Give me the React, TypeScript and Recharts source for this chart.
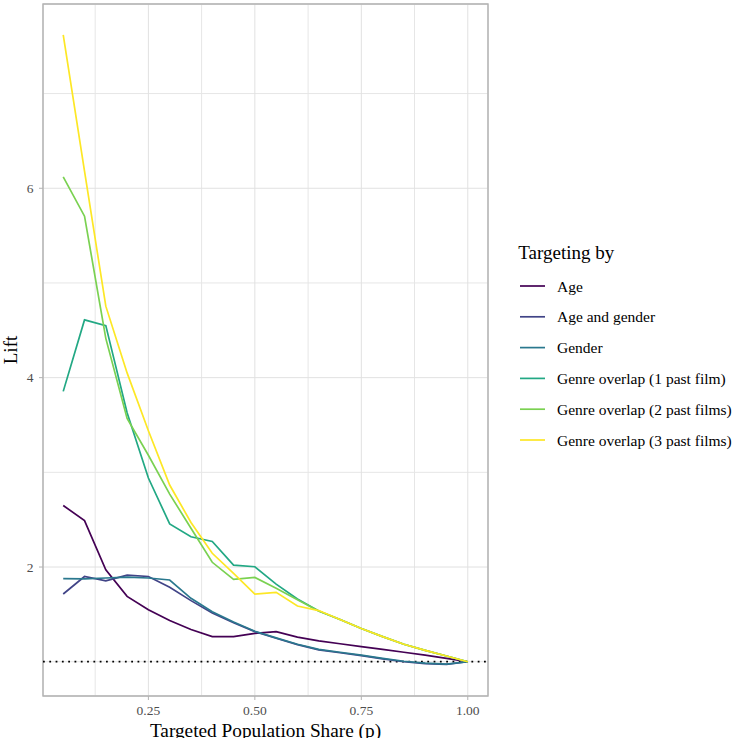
import { LineChart, Line, XAxis, YAxis, CartesianGrid, ReferenceLine, ReferenceArea } from "recharts"

const FONT = "'Liberation Serif', 'Times New Roman', serif"

// targeted population share (p)
const shares = [0.05, 0.1, 0.15, 0.2, 0.25, 0.3, 0.35, 0.4, 0.45, 0.5, 0.55, 0.6, 0.65, 0.7, 0.75, 0.8, 0.85, 0.9, 0.95, 1.0]

// lift per targeting rule
const age = [2.65, 2.49, 1.97, 1.69, 1.55, 1.435, 1.34, 1.265, 1.265, 1.3, 1.317, 1.26, 1.22, 1.19, 1.16, 1.13, 1.1, 1.07, 1.035, 1.0]
const ageGender = [1.715, 1.9, 1.855, 1.915, 1.9, 1.786, 1.645, 1.515, 1.412, 1.318, 1.248, 1.18, 1.125, 1.095, 1.065, 1.03, 1.0, 0.98, 0.972, 1.0]
const gender = [1.877, 1.874, 1.884, 1.894, 1.884, 1.863, 1.67, 1.528, 1.42, 1.322, 1.252, 1.184, 1.13, 1.1, 1.07, 1.035, 1.005, 0.985, 0.975, 1.0]
const genre1 = [3.855, 4.61, 4.55, 3.63, 2.94, 2.455, 2.32, 2.27, 2.02, 2.003, 1.82, 1.662, 1.535, 1.445, 1.35, 1.265, 1.185, 1.12, 1.06, 1.0]
const genre2 = [6.12, 5.705, 4.415, 3.57, 3.18, 2.77, 2.41, 2.05, 1.87, 1.89, 1.775, 1.655, 1.535, 1.445, 1.35, 1.265, 1.185, 1.12, 1.06, 1.0]
const genre3 = [7.62, 6.18, 4.755, 4.05, 3.44, 2.866, 2.47, 2.145, 1.933, 1.715, 1.733, 1.588, 1.54, 1.445, 1.35, 1.265, 1.185, 1.12, 1.06, 1.0]

const seriesNames = [
  "Age",
  "Age and gender",
  "Gender",
  "Genre overlap (1 past film)",
  "Genre overlap (2 past films)",
  "Genre overlap (3 past films)",
]
const seriesColors = ["#440154", "#414487", "#2A788E", "#22A884", "#7AD151", "#FDE725"]
const seriesValues = [age, ageGender, gender, genre1, genre2, genre3]

const xMajor = [0.25, 0.5, 0.75, 1.0]
const xMinor = [0.125, 0.375, 0.625, 0.875]
const yMajor = [2, 4, 6]
const yMinor = [1, 3, 5, 7]
const xDomain = [0.0025, 1.0475]
const yDomain = [0.638, 7.946]
const baseline = 1

const rows = shares.map((p, i) => {
  const row: Record<string, number> = { p }
  seriesValues.forEach((vals, s) => {
    row["s" + s] = vals[i]
  })
  return row
})

function XTitle({ viewBox }: any) {
  const vb = viewBox ?? { x: 43, y: 696, width: 445, height: 42 }
  return (
    <text x={vb.x + vb.width / 2} y={vb.y + vb.height - 1} textAnchor="middle" fontSize={19.3} fontFamily={FONT} fill="#000">
      Targeted Population Share (p)
    </text>
  )
}

function YTitle({ viewBox }: any) {
  const vb = viewBox ?? { x: 0, y: 4, width: 43, height: 692 }
  const cx = vb.x + 17.3
  const cy = vb.y + vb.height / 2
  return (
    <text x={cx} y={cy} transform={`rotate(-90 ${cx} ${cy})`} textAnchor="middle" fontSize={19} fontFamily={FONT} fill="#000">
      Lift
    </text>
  )
}

function LegendBox() {
  return (
    <svg width={242} height={230} style={{ position: "absolute", left: 490, top: 230 }}>
      <text x={28.3} y={29.3} fontSize={19} fontFamily={FONT} fill="#000">
        Targeting by
      </text>
      {seriesNames.map((name, i) => {
        const cy = 56 + i * 30.8
        return (
          <g key={name}>
            <line x1={30} x2={55} y1={cy} y2={cy} stroke={seriesColors[i]} strokeWidth={1.7} />
            <text x={67} y={cy + 5.5} fontSize={15.5} fontFamily={FONT} fill="#000">
              {name}
            </text>
          </g>
        )
      })}
    </svg>
  )
}

const tickStyle = { fontSize: 13.5, fill: "#4d4d4d", fontFamily: FONT }

export default function App() {
  return (
    <div style={{ position: "absolute", left: 0, top: 0, width: 732, height: 738, background: "#fff" }}>
      <LineChart width={732} height={738} data={rows} margin={{ top: 4, right: 244, bottom: 0, left: 0 }}>
        <XAxis xAxisId="minor" dataKey="p" type="number" domain={xDomain} ticks={xMinor} allowDataOverflow hide />
        <YAxis yAxisId="minor" type="number" domain={yDomain} ticks={yMinor} allowDataOverflow hide />
        <CartesianGrid xAxisId="minor" yAxisId="minor" stroke="#e6e6e6" strokeWidth={1} />
        <CartesianGrid stroke="#e1e1e1" strokeWidth={1} />
        <XAxis
          dataKey="p"
          type="number"
          domain={xDomain}
          ticks={xMajor}
          allowDataOverflow
          height={42}
          axisLine={false}
          tickLine={{ stroke: "#b3b3b3" }}
          tickSize={4}
          tickMargin={5.5}
          tick={tickStyle}
          tickFormatter={(v: number) => v.toFixed(2)}
          label={<XTitle />}
        />
        <YAxis
          type="number"
          domain={yDomain}
          ticks={yMajor}
          allowDataOverflow
          width={43}
          axisLine={false}
          tickLine={{ stroke: "#b3b3b3" }}
          tickSize={4}
          tickMargin={5.5}
          tick={tickStyle}
          label={<YTitle />}
        />
        <ReferenceLine y={baseline} stroke="#000" strokeWidth={1.8} strokeDasharray="1.8 4.5" />
        {seriesNames.map((name, i) => (
          <Line
            key={name}
            name={name}
            dataKey={"s" + i}
            type="linear"
            stroke={seriesColors[i]}
            strokeWidth={1.7}
            dot={false}
            isAnimationActive={false}
          />
        ))}
        <ReferenceArea x1={xDomain[0]} x2={xDomain[1]} y1={yDomain[0]} y2={yDomain[1]} fill="none" stroke="#b3b3b3" strokeWidth={1.4} />
      </LineChart>
      <LegendBox />
    </div>
  )
}
